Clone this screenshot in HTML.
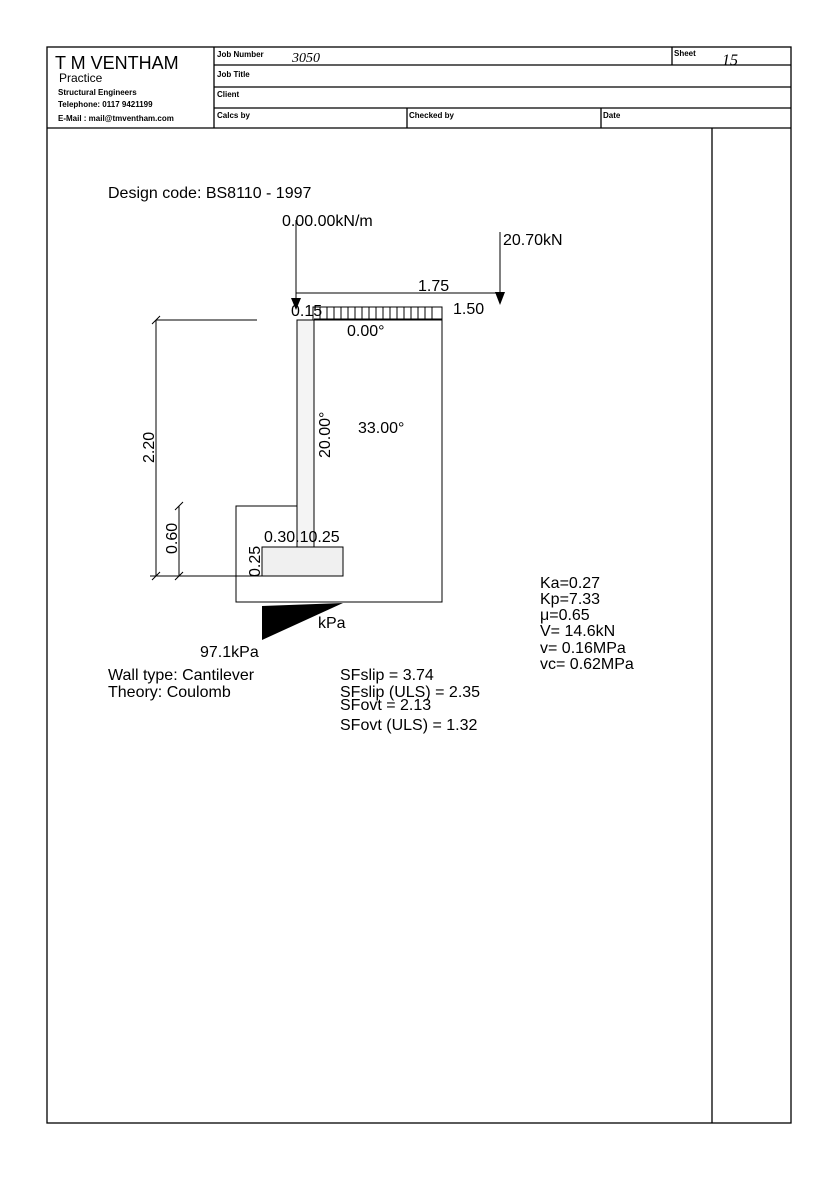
<!DOCTYPE html>
<html><head><meta charset="utf-8"><style>
body{margin:0;background:#fff;}
svg{display:block;font-family:"Liberation Sans",Arial,sans-serif;}
</style></head><body>
<svg width="839" height="1200" viewBox="0 0 839 1200" xmlns="http://www.w3.org/2000/svg">
<g stroke="#000" stroke-width="1.3" fill="none">
<rect x="47" y="47" width="744" height="1076"/>
<line x1="214" y1="47" x2="214" y2="128"/>
<line x1="214" y1="65" x2="791" y2="65"/>
<line x1="214" y1="87" x2="791" y2="87"/>
<line x1="214" y1="108" x2="791" y2="108"/>
<line x1="47" y1="128" x2="791" y2="128"/>
<line x1="672" y1="47" x2="672" y2="65"/>
<line x1="407" y1="108" x2="407" y2="128"/>
<line x1="601" y1="108" x2="601" y2="128"/>
<line x1="712" y1="128" x2="712" y2="1123"/>
</g>
<g fill="#000">
<text x="55" y="69" font-size="18">T M VENTHAM</text>
<text x="59" y="82" font-size="12">Practice</text>
<text x="58" y="95" font-size="8" font-weight="bold">Structural Engineers</text>
<text x="58" y="107" font-size="8" font-weight="bold">Telephone: 0117 9421199</text>
<text x="58" y="121" font-size="8" font-weight="bold">E-Mail : mail@tmventham.com</text>
<text x="217" y="57" font-size="8" font-weight="bold">Job Number</text>
<text x="217" y="77" font-size="8" font-weight="bold">Job Title</text>
<text x="217" y="97" font-size="8" font-weight="bold">Client</text>
<text x="217" y="118" font-size="8" font-weight="bold">Calcs by</text>
<text x="409" y="118" font-size="8" font-weight="bold">Checked by</text>
<text x="603" y="118" font-size="8" font-weight="bold">Date</text>
<text x="674" y="56" font-size="8" font-weight="bold">Sheet</text>
<text x="292" y="62" font-size="14" font-style="italic" font-family="Liberation Serif,serif">3050</text>
<text x="722" y="65" font-size="16" font-style="italic" font-family="Liberation Serif,serif">15</text>
<text x="108" y="198" font-size="16">Design code: BS8110 - 1997</text>
</g>
<g stroke="#000" stroke-width="1" fill="none">
<polyline points="297,506 236,506 236,602 442,602 442,319 314,319"/>
<rect x="297" y="320" width="17" height="227" fill="#f4f4f4"/>
<rect x="262" y="547" width="81" height="29" fill="#f0f0f0"/>
<rect x="313" y="307" width="129" height="13"/>
<line x1="156" y1="320" x2="257" y2="320"/>
<line x1="156" y1="320" x2="156" y2="576"/>
<line x1="179" y1="506" x2="179" y2="576"/>
<line x1="150" y1="576" x2="262" y2="576"/>
<line x1="296" y1="220" x2="296" y2="300"/>
<line x1="296" y1="293" x2="500" y2="293"/>
<line x1="500" y1="232" x2="500" y2="300"/>
</g>
<g stroke="#000" stroke-width="1">
<path d="M320 307V320M327 307V320M334 307V320M341 307V320M348 307V320M355 307V320M362 307V320M369 307V320M376 307V320M383 307V320M390 307V320M397 307V320M404 307V320M411 307V320M418 307V320M425 307V320M432 307V320"/>
<path d="M152 324L160 316M175 510L183 502M152 580L160 572M175 580L183 572"/>
</g>
<g fill="#000" font-size="16">
<polygon points="291,298 301,298 296,310"/>
<polygon points="495,292 505,292 500,305"/>
<polygon points="262,606 343,603 262,640"/>
<text x="282" y="226">0.00.00kN/m</text>
<text x="503" y="245">20.70kN</text>
<text x="418" y="291">1.75</text>
<text x="453" y="314">1.50</text>
<text x="291" y="316">0.15</text>
<text x="347" y="336">0.00°</text>
<text x="358" y="433">33.00°</text>
<text x="264" y="542">0.30.10.25</text>
<text x="318" y="628">kPa</text>
<text x="200" y="657">97.1kPa</text>
<text transform="translate(154,463) rotate(-90)">2.20</text>
<text transform="translate(177,554) rotate(-90)">0.60</text>
<text transform="translate(260,577) rotate(-90)">0.25</text>
<text transform="translate(330,458) rotate(-90)">20.00°</text>
<text x="108" y="680">Wall type: Cantilever</text>
<text x="108" y="697">Theory: Coulomb</text>
<text x="340" y="680">SFslip =  3.74</text>
<text x="340" y="697">SFslip (ULS) =  2.35</text>
<text x="340" y="710">SFovt =  2.13</text>
<text x="340" y="730">SFovt (ULS) =  1.32</text>
<text x="540" y="588">Ka=0.27</text>
<text x="540" y="604">Kp=7.33</text>
<text x="540" y="620">μ=0.65</text>
<text x="540" y="636">V= 14.6kN</text>
<text x="540" y="653">v= 0.16MPa</text>
<text x="540" y="669">vc= 0.62MPa</text>
</g>
</svg>
</body></html>
